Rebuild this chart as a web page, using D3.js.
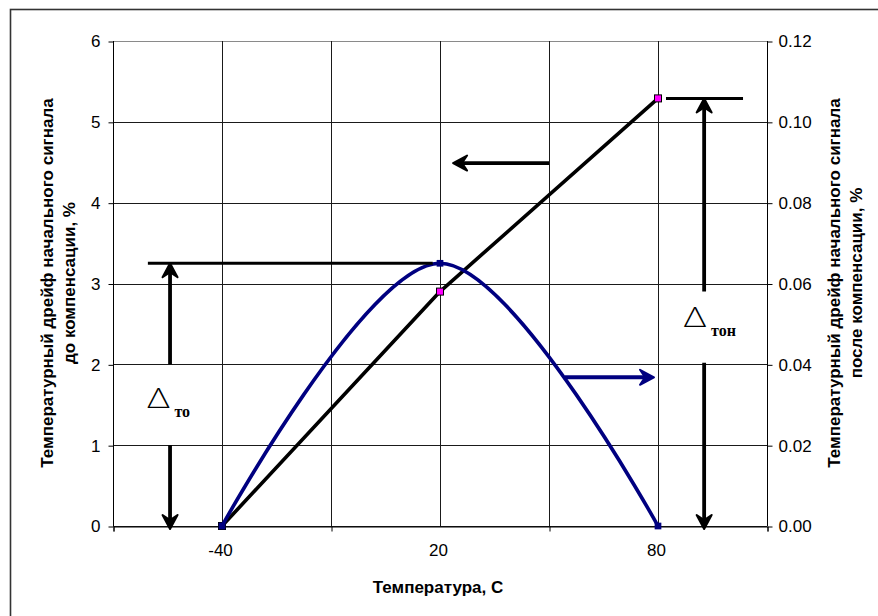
<!DOCTYPE html>
<html>
<head>
<meta charset="utf-8">
<script src="https://cdn.jsdelivr.net/npm/d3@7"></script>
<style>
  html, body { margin: 0; padding: 0; background: #fff; }
  svg { display: block; }
  text { font-family: "Liberation Sans", Arial, sans-serif; fill: #000; }
</style>
</head>
<body>
<svg id="chart" width="878" height="616"></svg>
<script>
// Temperature points and the two drift series
const temps = [-40, 20, 80];
const driftBefore = [0, 2.9, 5.29];      // left axis, %
const driftAfter = [0, 0.065, 0];        // right axis, %

// Axis ticks and labels
const leftTicks = [0, 1, 2, 3, 4, 5, 6];
const rightTicks = [0, 0.02, 0.04, 0.06, 0.08, 0.10, 0.12];
const xLabelTicks = [-40, 20, 80];
const xGridTicks = [-40, -10, 20, 50, 80];
const xMarkTicks = [-70, -10, 50, 110];
const xDomain = [-70, 110];

const svg = d3.select("#chart");
const W = 878, H = 616;
const plot = { left: 113, right: 767, top: 41, bottom: 526 };

const x = d3.scaleLinear().domain(xDomain).range([plot.left, plot.right]);
const yL = d3.scaleLinear().domain([0, 6]).range([plot.bottom, plot.top]);
const yR = d3.scaleLinear().domain([0, 0.12]).range([plot.bottom, plot.top]);

// outer frame
svg.append("rect")
  .attr("x", 10.5).attr("y", 9.5)
  .attr("width", W).attr("height", H)
  .attr("fill", "#fff").attr("stroke", "#333").attr("stroke-width", 1.6);

// horizontal gridlines
svg.append("g").selectAll("line").data(leftTicks).join("line")
  .attr("x1", plot.left).attr("x2", plot.right)
  .attr("y1", d => Math.round(yL(d)) + 0.5).attr("y2", d => Math.round(yL(d)) + 0.5)
  .attr("stroke", d => d === 6 ? "#8a8a8a" : "#1a1a1a").attr("stroke-width", 1);

// vertical gridlines
svg.append("g").selectAll("line").data(xGridTicks).join("line")
  .attr("x1", d => Math.round(x(d)) + 0.5).attr("x2", d => Math.round(x(d)) + 0.5)
  .attr("y1", plot.top).attr("y2", plot.bottom)
  .attr("stroke", "#1a1a1a").attr("stroke-width", 1);

// left axis
const leftAxis = d3.axisLeft(yL).tickValues(leftTicks).tickSize(5).tickPadding(8)
  .tickFormat(d3.format("d"));
const gL = svg.append("g").attr("transform", `translate(${plot.left + 0.5},0.5)`).call(leftAxis);

// right axis
const rightAxis = d3.axisRight(yR).tickValues(rightTicks).tickSize(5).tickPadding(6)
  .tickFormat(d3.format(".2f"));
const gR = svg.append("g").attr("transform", `translate(${plot.right + 0.5},0.5)`).call(rightAxis);

// bottom axis: line with tick marks between labelled points
const bottomTicks = d3.axisBottom(x).tickValues(xMarkTicks).tickSize(5).tickFormat("");
const gB = svg.append("g").attr("transform", `translate(0.5,${plot.bottom + 0.5})`).call(bottomTicks);
const bottomLabels = d3.axisBottom(x).tickValues(xLabelTicks).tickSize(0).tickPadding(18)
  .tickFormat(d => String(d));
const gBL = svg.append("g").attr("transform", `translate(-2,${plot.bottom})`).call(bottomLabels);
gBL.select(".domain").remove();

[gL, gR, gB, gBL].forEach(g => {
  g.select(".domain").attr("stroke", "#000").attr("stroke-width", 1);
  g.selectAll(".tick line").attr("stroke", "#000");
  g.selectAll("text").style("font-family", "'Liberation Sans', Arial, sans-serif")
    .style("font-size", "17px").attr("fill", "#000");
});
gL.select(".domain").attr("d", `M0,${plot.top - 0.5}V${plot.bottom - 0.5}`);
gR.select(".domain").attr("d", `M0,${plot.top - 0.5}V${plot.bottom - 0.5}`);

// axis titles
const titleFont = "'Liberation Sans', Arial, sans-serif";
svg.append("text")
  .attr("transform", `translate(438,587)`)
  .attr("text-anchor", "middle").attr("dominant-baseline", "central")
  .style("font-weight", "bold").style("font-size", "17px").style("font-family", titleFont)
  .text("Температура, С");

const leftTitle = svg.append("text")
  .attr("transform", `translate(0,283) rotate(-90)`)
  .attr("text-anchor", "middle")
  .style("font-weight", "bold").style("font-size", "17px").style("font-family", titleFont);
leftTitle.append("tspan").attr("x", 0).attr("y", 53).text("Температурный дрейф начального сигнала");
leftTitle.append("tspan").attr("x", 0).attr("y", 75).text("до компенсации, %");

const rightTitle = svg.append("text")
  .attr("transform", `translate(0,283) rotate(-90)`)
  .attr("text-anchor", "middle")
  .style("font-weight", "bold").style("font-size", "17px").style("font-family", titleFont);
rightTitle.append("tspan").attr("x", 0).attr("y", 840).text("Температурный дрейф начального сигнала");
rightTitle.append("tspan").attr("x", 0).attr("y", 862).text("после компенсации, %");

// series: drift before compensation (black, left axis)
const before = temps.map((t, i) => ({ t, v: driftBefore[i] }));
const after = temps.map((t, i) => ({ t, v: driftAfter[i] }));

svg.append("path").datum(before)
  .attr("d", d3.line().x(d => x(d.t)).y(d => yL(d.v)))
  .attr("fill", "none").attr("stroke", "#000").attr("stroke-width", 3.6)
  .attr("stroke-linejoin", "round");
svg.append("g").selectAll("rect").data(before).join("rect")
  .attr("x", d => x(d.t) - 3.5).attr("y", d => yL(d.v) - 3.5)
  .attr("width", 7).attr("height", 7)
  .attr("fill", "#ff00ff").attr("stroke", "#000").attr("stroke-width", 1);

// series: drift after compensation (navy, right axis, smoothed)
svg.append("path").datum(after)
  .attr("d", d3.line().curve(d3.curveCardinal.tension(0)).x(d => x(d.t)).y(d => yR(d.v)))
  .attr("fill", "none").attr("stroke", "#000080").attr("stroke-width", 3.6);
svg.append("g").selectAll("path").data(after).join("path")
  .attr("d", d3.symbol(d3.symbolSquare, 45)())
  .attr("transform", d => `translate(${x(d.t)},${yR(d.v)})`)
  .attr("fill", "#000080");

// arrow helper: thick shaft with a notched head at (x2,y2)
function arrow(g, x1, y1, x2, y2, color) {
  const ang = Math.atan2(y2 - y1, x2 - x1);
  const len = Math.hypot(x2 - x1, y2 - y1);
  const a = g.append("g")
    .attr("transform", `translate(${x1},${y1}) rotate(${ang * 180 / Math.PI})`);
  a.append("line").attr("x1", 0).attr("y1", 0).attr("x2", len - 4).attr("y2", 0)
    .attr("stroke", color).attr("stroke-width", 3.8);
  a.append("path")
    .attr("d", `M${len},0 L${len - 14},-7.5 L${len - 9},0 L${len - 14},7.5 Z`)
    .attr("fill", color).attr("stroke", color).attr("stroke-width", 2)
    .attr("stroke-linejoin", "round");
}

const ann = svg.append("g");

// Δто bracket: from zero up to the peak of the compensated drift
const peakAfter = d3.max(driftAfter);
const maxBefore = d3.max(driftBefore);
const tLeft = -54.3, tRight = 92.7;
ann.append("line")
  .attr("x1", x(-60.4)).attr("x2", x(18)).attr("y1", yR(peakAfter)).attr("y2", yR(peakAfter))
  .attr("stroke", "#000").attr("stroke-width", 3);
arrow(ann, x(tLeft), yL(2), x(tLeft), yR(peakAfter), "#000");
arrow(ann, x(tLeft), yL(1), x(tLeft), yL(0) + 3, "#000");

// Δтон bracket: from zero up to the maximum uncompensated drift
ann.append("line")
  .attr("x1", x(82.2)).attr("x2", x(103.4)).attr("y1", yL(maxBefore)).attr("y2", yL(maxBefore))
  .attr("stroke", "#000").attr("stroke-width", 3);
arrow(ann, x(tRight), yL(2.9), x(tRight), yL(maxBefore), "#000");
arrow(ann, x(tRight), yL(2.02), x(tRight), yL(0) + 3, "#000");

// series-to-axis pointers
arrow(ann, x(50), yL(4.49), x(23.6), yL(4.49), "#000");
arrow(ann, x(54.4), yR(0.0368), x(78.9), yR(0.0368), "#000080");

// Δ labels: light outlined triangle with a bold serif subscript
function deltaLabel(cx, cy, sub) {
  const g = svg.append("g");
  g.append("text").attr("x", cx).attr("y", cy)
    .attr("text-anchor", "middle")
    .attr("transform", `translate(${cx},0) scale(1.3,1) translate(${-cx},0)`)
    .style("font-family", "Lato, 'DejaVu Sans', sans-serif")
    .style("font-weight", "300")
    .style("font-size", "27px").text("Δ");
  g.append("text").attr("x", cx + 16).attr("y", cy + 9)
    .style("font-family", "'Liberation Serif', 'Times New Roman', serif")
    .style("font-weight", "bold").style("font-size", "16px").text(sub);
}
deltaLabel(x(-57.5), 408, "то");
deltaLabel(x(90.2), 327, "тон");
</script>
</body>
</html>
